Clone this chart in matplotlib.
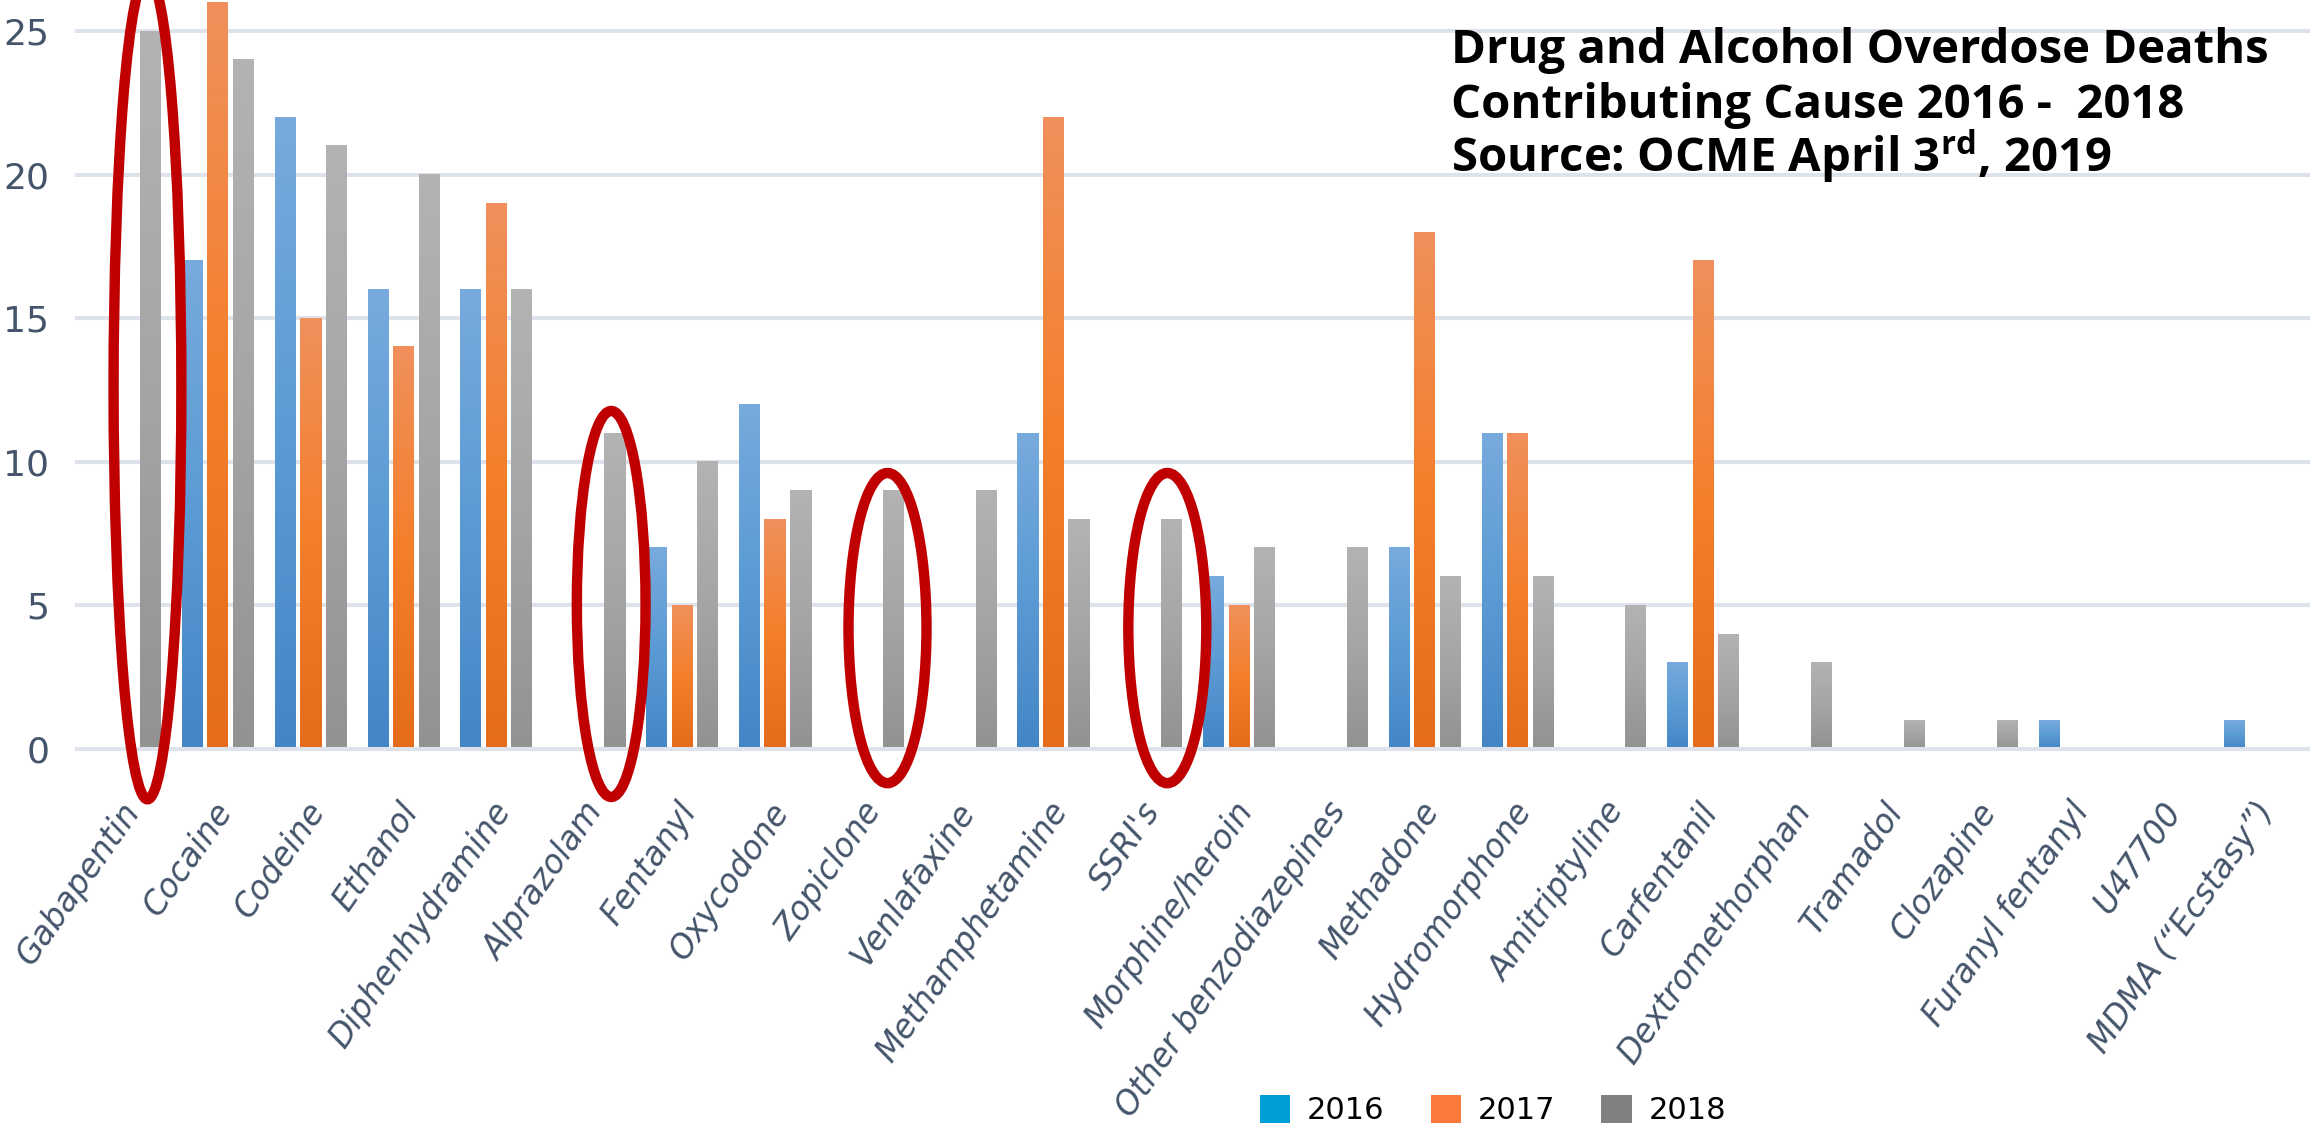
import numpy as np
import matplotlib
matplotlib.use("Agg")
import matplotlib.pyplot as plt
from matplotlib.colors import LinearSegmentedColormap
from matplotlib.patches import Ellipse, Patch
from matplotlib.transforms import ScaledTranslation

# ---- data -----------------------------------------------------------------
drugs = ["Gabapentin", "Cocaine", "Codeine", "Ethanol", "Diphenhydramine",
         "Alprazolam", "Fentanyl", "Oxycodone", "Zopiclone", "Venlafaxine",
         "Methamphetamine", "SSRI's", "Morphine/heroin", "Other benzodiazepines",
         "Methadone", "Hydromorphone", "Amitriptyline", "Carfentanil",
         "Dextromethorphan", "Tramadol", "Clozapine", "Furanyl fentanyl",
         "U47700", "MDMA (\u201cEcstasy\u201d)"]
deaths_2016 = [0, 17, 22, 16, 16, 0, 7, 12, 0, 0, 11, 0, 6, 0, 7, 11, 0, 3, 0, 0, 0, 1, 0, 1]
deaths_2017 = [0, 26, 15, 14, 19, 0, 5, 8, 0, 0, 22, 0, 5, 0, 18, 11, 0, 17, 0, 0, 0, 0, 0, 0]
deaths_2018 = [25, 24, 21, 20, 16, 11, 10, 9, 9, 9, 8, 8, 7, 7, 6, 6, 5, 4, 3, 1, 1, 0, 0, 0]
years = ["2016", "2017", "2018"]
y_ticks = [0, 5, 10, 15, 20, 25]
circled = ["Gabapentin", "Alprazolam", "Zopiclone", "SSRI's"]

title_lines = ["Drug and Alcohol Overdose Deaths",
               "Contributing Cause 2016 -  2018",
               "Source: OCME April 3$^{\\mathrm{rd}}$, 2019"]

# ---- styling --------------------------------------------------------------
W, H = 2310, 1128
plt.rcParams["font.family"] = ["DejaVu Sans"]
plt.rcParams["mathtext.fontset"] = "custom"
plt.rcParams["mathtext.rm"] = "Open Sans:bold"

label_color = "#44546A"
grid_color = "#DEE2EA"
ring_color = "#C00000"
legend_colors = ["#009ED9", "#FD783B", "#808080"]
# bottom, middle, top of each bar's gradient fill
bar_gradients = [["#4485C6", "#5B9BD5", "#78AADD"],
                 ["#E46C1B", "#F47F2B", "#F0905C"],
                 ["#929292", "#A5A5A5", "#B3B3B3"]]

group_px = 92.84          # distance between categories
unit_px = 28.72           # pixels per death on the value axis
zero_px = 749             # baseline row
left_px = 77              # where the plot area starts
first_px = 125            # centre of the first category
bar_w = 21 / group_px
bar_step = 25.5 / group_px

fig = plt.figure(figsize=(W / 100, H / 100), dpi=100)
ax = fig.add_axes([left_px / W, (H - zero_px) / H, 1 - left_px / W, zero_px / H])

x = np.arange(len(drugs))
series = [deaths_2016, deaths_2017, deaths_2018]
grad = np.linspace(0, 1, 256).reshape(-1, 1)
for k, (vals, stops) in enumerate(zip(series, bar_gradients)):
    cmap = LinearSegmentedColormap.from_list(f"g{k}", stops)
    bars = ax.bar(x + (k - 1) * bar_step, vals, width=bar_w,
                  color="none", edgecolor="none", zorder=2)
    for rect in bars:
        h = rect.get_height()
        if h <= 0:
            continue
        x0 = rect.get_x()
        ax.imshow(grad, cmap=cmap, origin="lower", aspect="auto",
                  extent=(x0, x0 + rect.get_width(), 0, h),
                  interpolation="bilinear", zorder=2)

ax.set_xlim((left_px - first_px) / group_px, (W - first_px) / group_px)
ax.set_ylim(0, zero_px / unit_px)

ax.set_yticks(y_ticks)
ax.yaxis.grid(True, color=grid_color, linewidth=2.9)
ax.set_axisbelow(True)
for gl in ax.get_ygridlines():
    gl.set_clip_on(False)
ax.axhline(0, color=grid_color, linewidth=2.9, zorder=3, clip_on=False)
for s in ax.spines.values():
    s.set_visible(False)

ax.tick_params(axis="y", length=0, pad=20, labelsize=26, labelcolor=label_color)
ax.set_xticks(x)
ax.set_xticklabels(drugs, rotation=55, ha="right", rotation_mode="anchor",
                   fontsize=23.5, style="italic", color=label_color)
ax.tick_params(axis="x", length=0, pad=34)
shift = ScaledTranslation(-6 / 100, 0, fig.dpi_scale_trans)
for lab in ax.get_xticklabels():
    lab.set_transform(lab.get_transform() + shift)

# red rings around the drugs that first appear in 2018
ring_geom = {  # x shift from category centre, centre value, width, height
    "Gabapentin": (0.242, 12.6, 0.73, 28.7),
    "Alprazolam": (0.237, 5.05, 0.74, 13.44),
    "Zopiclone": (0.213, 4.21, 0.84, 10.8),
    "SSRI's": (0.227, 4.21, 0.84, 10.8),
}
for name in circled:
    dx, cy, w, h = ring_geom[name]
    ax.add_patch(Ellipse((drugs.index(name) + dx, cy), w, h, fill=False,
                         edgecolor=ring_color, linewidth=7.5, zorder=5,
                         clip_on=False))

# legend
handles = [Patch(facecolor=c, edgecolor="none", label=y)
           for c, y in zip(legend_colors, years)]
fig.legend(handles=handles, loc="center", bbox_to_anchor=(1493 / W, 18 / H),
           ncol=3, frameon=False, fontsize=22, handlelength=1.0,
           handleheight=1.05, handletextpad=0.55, columnspacing=1.5,
           borderpad=0, borderaxespad=0)

# title block in the upper right
baselines = [63, 118, 172]
texts = [fig.text(1451 / W, 1 - b / H, line, fontsize=30, fontweight="bold",
                  family=["Open Sans", "DejaVu Sans"],
                  color="black", ha="left", va="baseline")
         for line, b in zip(title_lines, baselines)]
fig.canvas.draw()
r = fig.canvas.get_renderer()
scale = 817 / texts[0].get_window_extent(r).width
for t in texts:
    t.set_fontsize(30 * scale)

fig.savefig("out.png", dpi=100, facecolor="white")
